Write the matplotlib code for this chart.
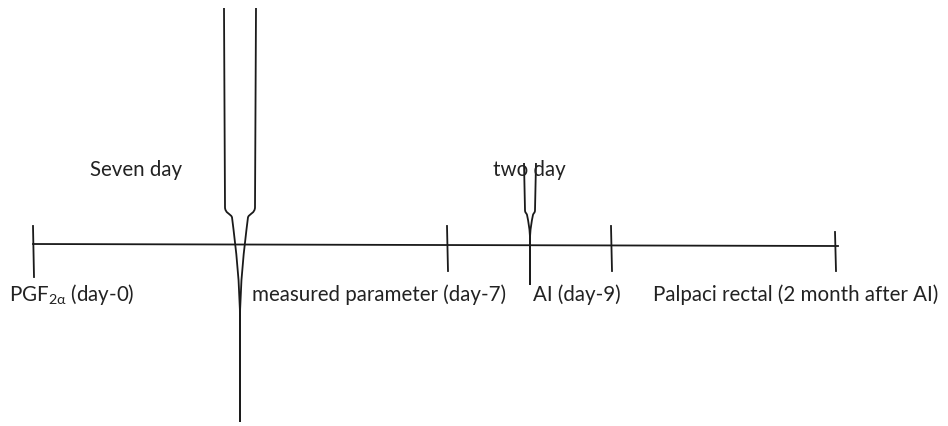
import matplotlib
matplotlib.use('Agg')
import matplotlib.pyplot as plt
from matplotlib.path import Path
from matplotlib.patches import PathPatch

plt.rcParams['font.family'] = ['Lato', 'DejaVu Sans']

# timeline events (x position in diagram units, label, label start)
event_x = [33, 447, 611, 835]
event_top = [226, 226, 226, 232]
event_bottom = [277, 271, 271, 271]
labels = [r'PGF$_{\mathregular{2α}}$ (day-0)', 'measured parameter (day-7)', 'AI (day-9)',
          'Palpaci rectal (2 month after AI)']
label_x = [9, 252, 533, 653]
label_y = 301

# interval braces: centre, half width, top, kink, merge, tip, text, text x
brace_xc = [240, 530]
brace_hw = [16, 6]
brace_top = [8, 163]
brace_kink = [207, 210]
brace_merge = [325, 240]
brace_tip = [422, 285]
brace_text = ['Seven day', 'two day']
brace_text_x = [90, 493]
brace_text_y = 176

line_y = (244, 246)
INK = '#1a1a1a'
TXT = '#222222'
FS = 14.8


def brace(ax, xc, hw, top, kink, merge, tip):
    for s in (-1, 1):
        x0 = xc + s * hw
        sh = xc + s * hw * 0.5
        dk = max(hw * 0.4, 3)
        y1 = kink + 1.6 * dk
        verts = [(x0, top), (x0 - s * 1.0, kink),
                 (x0 - s * 1.0, kink + dk), (sh + s * hw * 0.1, kink + dk), (sh, y1),
                 (sh - s * hw * 0.25, y1 + (merge - y1) * 0.3),
                 (xc, merge - (merge - y1) * 0.4), (xc, merge),
                 (xc, tip)]
        codes = [Path.MOVETO, Path.LINETO,
                 Path.CURVE4, Path.CURVE4, Path.CURVE4,
                 Path.CURVE4, Path.CURVE4, Path.CURVE4,
                 Path.LINETO]
        ax.add_patch(PathPatch(Path(verts, codes), fill=False, lw=1.3, ec=INK,
                               capstyle='butt', joinstyle='round'))


fig = plt.figure(figsize=(9.48, 4.26), dpi=100)
ax = fig.add_axes([0, 0, 1, 1])
ax.set_xlim(0, 948)
ax.set_ylim(426, 0)
ax.axis('off')

ax.plot([33, 838], line_y, color=INK, lw=1.3)
for x, t, b in zip(event_x, event_top, event_bottom):
    ax.plot([x, x + 1], [t, b], color=INK, lw=1.3)

for xc, hw, t, k, m, tp in zip(brace_xc, brace_hw, brace_top, brace_kink,
                               brace_merge, brace_tip):
    brace(ax, xc, hw, t, k, m, tp)

for txt, x in zip(labels, label_x):
    ax.text(x, label_y, txt, fontsize=FS, color=TXT, ha='left', va='baseline')
for txt, x in zip(brace_text, brace_text_x):
    ax.text(x, brace_text_y, txt, fontsize=FS, color=TXT, ha='left', va='baseline')

fig.savefig('out.png', dpi=100, facecolor='white')
